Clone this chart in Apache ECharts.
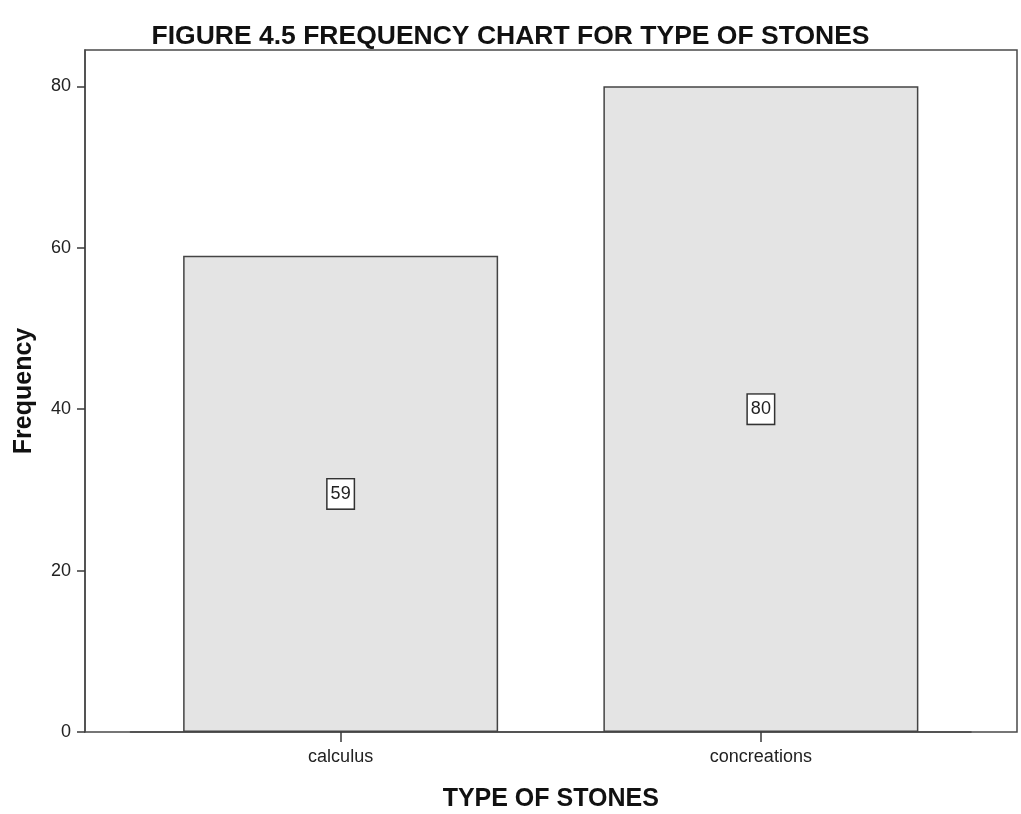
<!DOCTYPE html>
<html>
<head>
<meta charset="utf-8">
<style>
  html, body { margin: 0; padding: 0; background: #ffffff; }
  #chart { width: 1021px; height: 814px; }
</style>
<script src="https://cdn.jsdelivr.net/npm/echarts@6/dist/echarts.min.js"></script>
</head>
<body>
<div id="chart"></div>
<script>
// Frequency of each stone type
const categories = ['calculus', 'concreations'];
const frequencies = [59, 80];
const yTicks = [0, 20, 40, 60, 80];

const FONT = 'Arial, "Liberation Sans", sans-serif';
const INK = '#3a3a3a';

const chart = echarts.init(document.getElementById('chart'), null, { renderer: 'canvas' });

chart.setOption({
  backgroundColor: '#ffffff',
  animation: false,
  title: {
    text: 'FIGURE 4.5 FREQUENCY CHART FOR TYPE OF STONES',
    left: 'center',
    top: 18,
    textStyle: { fontFamily: FONT, fontWeight: 'bold', fontSize: 26.5, color: '#111111' }
  },
  grid: [
    // plotting grid (bars and category ticks)
    { left: 130.5, right: 50, top: 50, bottom: 82, containLabel: false, outerBoundsMode: 'none' },
    // outer frame around the data region
    { left: 85, right: 4, top: 50, bottom: 82, show: true, containLabel: false, outerBoundsMode: 'none',
      borderColor: '#4a4a4a', borderWidth: 1.5, backgroundColor: 'transparent' }
  ],
  xAxis: [
    {
      type: 'category',
      gridIndex: 0,
      data: categories,
      name: 'TYPE OF STONES',
      nameLocation: 'middle',
      nameGap: 55,
      nameTextStyle: { fontFamily: FONT, fontWeight: 'bold', fontSize: 25, color: '#111111' },
      axisLine: { show: true, lineStyle: { color: '#4a4a4a', width: 1.5 } },
      axisTick: { show: true, alignWithLabel: true, length: 10, lineStyle: { color: INK, width: 1.5 } },
      axisLabel: { fontFamily: FONT, fontSize: 18, color: '#222222', margin: 16 },
      splitLine: { show: false }
    },
    { type: 'value', gridIndex: 1, show: false }
  ],
  yAxis: [
    {
      type: 'value',
      gridIndex: 0,
      min: 0,
      max: 84.5,
      offset: 45.5,
      name: 'Frequency',
      nameLocation: 'middle',
      nameRotate: 90,
      nameGap: 48,
      nameTextStyle: { fontFamily: FONT, fontWeight: 'bold', fontSize: 25, color: '#111111' },
      axisLine: { show: true, lineStyle: { color: '#4a4a4a', width: 1.5 } },
      axisTick: { show: true, inside: false, length: 8, customValues: yTicks,
                  lineStyle: { color: INK, width: 1.5 } },
      axisLabel: { fontFamily: FONT, fontSize: 18, color: '#222222', margin: 14, customValues: yTicks },
      splitLine: { show: false }
    },
    { type: 'value', gridIndex: 1, show: false }
  ],
  series: [
    {
      type: 'bar',
      xAxisIndex: 0,
      yAxisIndex: 0,
      data: frequencies,
      barWidth: 315,
      itemStyle: { color: '#e4e4e4', borderColor: '#444444', borderWidth: 1.5 },
      label: {
        show: true,
        position: 'inside',
        fontFamily: FONT,
        fontSize: 18,
        color: '#222222',
        backgroundColor: '#ffffff',
        borderColor: '#333333',
        borderWidth: 1.5,
        padding: [6, 3, 5, 3]
      },
      emphasis: { disabled: true }
    }
  ]
});
</script>
</body>
</html>
